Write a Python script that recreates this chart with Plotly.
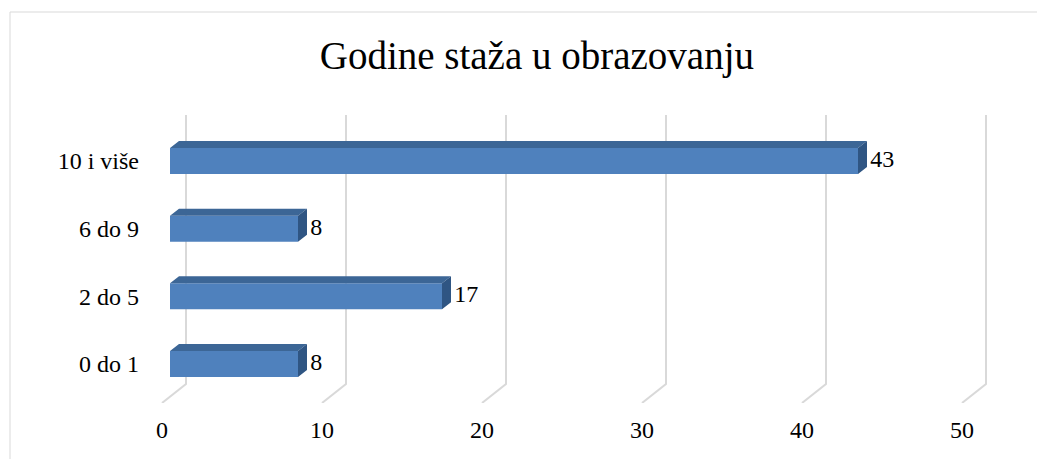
import plotly.graph_objects as go

# ---- data ----
categories = ["0 do 1", "2 do 5", "6 do 9", "10 i više"]
values = [8, 17, 8, 43]
x_ticks = [0, 10, 20, 30, 40, 50]
title_text = "Godine staža u obrazovanju"

# ---- style constants ----
FRONT = "#4F81BD"
TOP = "#3C6696"
SIDE = "#2F5583"
GRID = "#D9D9D9"
FONT = "Liberation Serif"
BAR_W = 0.384          # bar thickness (category units)
DX = 0.5625            # 3D depth offset along value axis
DY = 0.1034            # 3D depth offset along category axis
LABEL_PAD = 0.2        # gap between bar end and its label (value units)
WALL_DX = 1.0          # back wall offset (value units)
FLOOR_DX = -0.5        # floor front offset (value units)
Y_TOP = 3.68
Y_WALL_BOTTOM = -0.2956
Y_FLOOR = -0.5763

XR = [-1.25, 54.375]
YR = [Y_FLOOR, 3.901]

cat_pos = list(range(len(categories)))

fig = go.Figure()

# gridlines (back wall + floor) as shapes below the data
shapes = []
for v in x_ticks:
    path = (f"M {v + WALL_DX},{Y_TOP} L {v + WALL_DX},{Y_WALL_BOTTOM} "
            f"L {v + FLOOR_DX},{Y_FLOOR}")
    shapes.append(dict(type="path", xref="x", yref="y", path=path,
                       line=dict(color=GRID, width=2), layer="below"))

# chart-area border
shapes.append(dict(type="rect", xref="paper", yref="paper",
                   x0=-0.1573, x1=1.0225, y0=-0.2211, y1=1.2904,
                   line=dict(color=GRID, width=1), layer="below"))

# front faces
fig.add_trace(go.Bar(x=values, y=cat_pos, orientation="h", width=BAR_W,
                     marker=dict(color=FRONT, line=dict(width=0)),
                     hoverinfo="x", showlegend=False))

# top faces
tx, ty = [], []
for v, c in zip(values, cat_pos):
    yt = c + BAR_W / 2
    tx += [0, v, v + DX, DX, 0, None]
    ty += [yt, yt, yt + DY, yt + DY, yt, None]
fig.add_trace(go.Scatter(x=tx, y=ty, mode="lines", fill="toself",
                         fillcolor=TOP, line=dict(width=0, color=TOP),
                         hoverinfo="skip", showlegend=False))

# side faces
sx, sy = [], []
for v, c in zip(values, cat_pos):
    yb = c - BAR_W / 2
    yt = c + BAR_W / 2
    sx += [v, v + DX, v + DX, v, v, None]
    sy += [yb, yb + DY, yt + DY, yt, yb, None]
fig.add_trace(go.Scatter(x=sx, y=sy, mode="lines", fill="toself",
                         fillcolor=SIDE, line=dict(width=0, color=SIDE),
                         hoverinfo="skip", showlegend=False))

# data labels
fig.add_trace(go.Scatter(x=[v + DX + LABEL_PAD for v in values], y=cat_pos,
                         mode="text", text=[str(v) for v in values],
                         textposition="middle right",
                         textfont=dict(family=FONT, size=24, color="#000000"),
                         hoverinfo="skip", showlegend=False))

# invisible trace to activate xaxis2 (tick labels on the floor front)
fig.add_trace(go.Scatter(x=[x_ticks[0]], y=[0], xaxis="x2", mode="markers",
                         marker=dict(opacity=0), hoverinfo="skip",
                         showlegend=False))

fig.update_layout(
    width=1037, height=451,
    margin=dict(l=142, r=5, t=92, b=56),
    paper_bgcolor="white", plot_bgcolor="white",
    title=dict(text=title_text, x=0.51, xanchor="center",
               y=0.8958, yanchor="middle", yref="container",
               font=dict(family=FONT, size=39, color="#000000")),
    xaxis=dict(range=XR, showgrid=False, zeroline=False, showticklabels=False,
               showline=False, fixedrange=True),
    xaxis2=dict(range=[XR[0] - FLOOR_DX, XR[1] - FLOOR_DX], overlaying="x",
                side="bottom", tickvals=x_ticks,
                ticktext=[str(t) for t in x_ticks],
                showgrid=False, zeroline=False, showline=False,
                ticks="", ticklabelstandoff=10,
                tickfont=dict(family=FONT, size=24, color="#000000")),
    yaxis=dict(range=YR, tickvals=cat_pos, ticktext=categories,
               showgrid=False, zeroline=False, showline=False, ticks="",
               ticklabelstandoff=10,
               tickfont=dict(family=FONT, size=24, color="#000000")),
    shapes=shapes,
)

fig.write_html("out.html")
